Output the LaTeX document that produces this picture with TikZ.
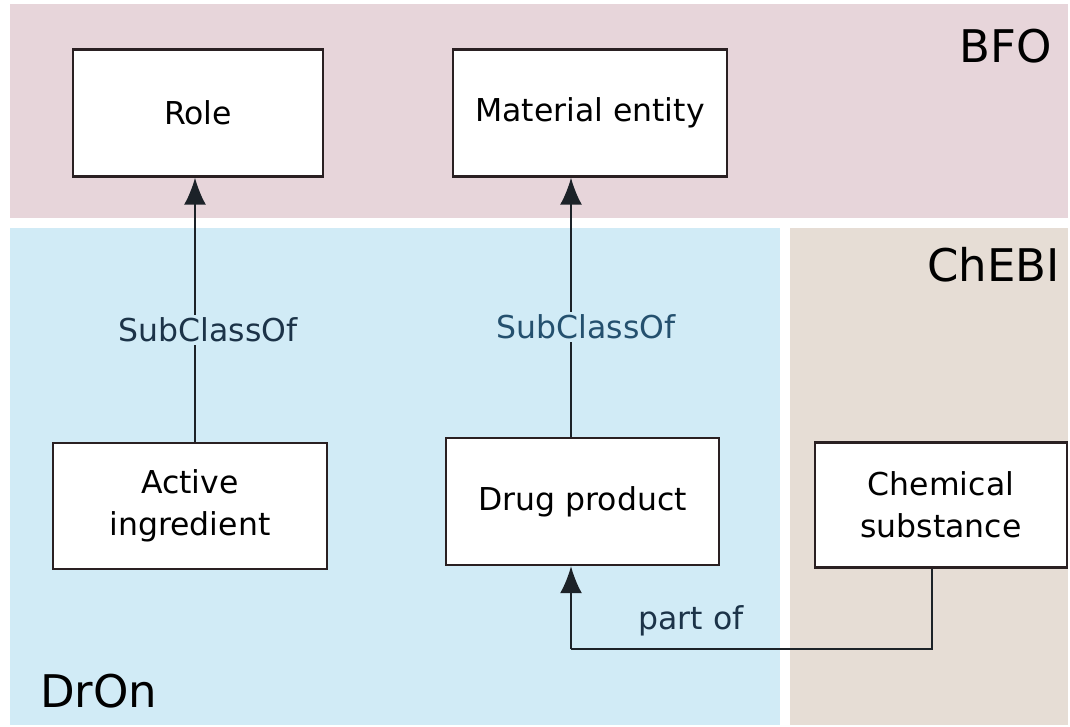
\documentclass[tikz,border=0pt]{standalone}
\usepackage{fontspec}
\setmainfont{DejaVu Sans}
\usetikzlibrary{arrows.meta}
\definecolor{bfopink}{HTML}{E7D5DA}
\definecolor{dronblue}{HTML}{D1EBF6}
\definecolor{chebibeige}{HTML}{E6DDD5}
\definecolor{boxline}{HTML}{2A2022}
\definecolor{arrline}{HTML}{1C2228}
\definecolor{lblA}{HTML}{1C3348}
\definecolor{lblB}{HTML}{24506E}
\tikzset{
  classbox/.style={draw=boxline, line width=2.4pt, fill=white, align=center,
    font=\fontsize{31.5}{42}\selectfont, inner sep=0pt},
  arr/.style={draw=arrline, line width=2pt, -{Latex[length=27pt,width=22pt]}},
  conn/.style={draw=arrline, line width=2pt},
  reltext/.style={font=\fontsize{31.5}{36}\selectfont, inner sep=3pt},
  paneltitle/.style={font=\fontsize{45}{50}\selectfont, inner sep=0pt, text=black}
}
\begin{document}
\begin{tikzpicture}[x=1pt,y=-1pt]
\useasboundingbox (0,0) rectangle (1070,727);
\fill[white] (0,0) rectangle (1070,727);
% panels
\fill[bfopink] (10,4) rectangle (1068,218);
\fill[dronblue] (10,228) rectangle (780,725);
\fill[chebibeige] (790,228) rectangle (1068,725);
% panel titles
\node[paneltitle, anchor=base east] (tbfo) at (1052,63) {BFO};
\node[paneltitle, anchor=base east] (tchebi) at (1060,281) {ChEBI};
\node[paneltitle, anchor=base west] (tdron) at (40,707) {DrOn};
% boxes
\node[classbox, minimum width=250pt, minimum height=127pt] (role) at (198,113) {Role};
\node[classbox, minimum width=274pt, minimum height=127pt] (mat) at (590,113) {Material entity};
\node[classbox, minimum width=274pt, minimum height=126pt] (act) at (190,506) {Active\\ingredient};
\node[classbox, minimum width=273pt, minimum height=127pt] (drug) at (582.5,501.5) {Drug product};
\node[classbox, minimum width=252pt, minimum height=125pt] (chem) at (941,505) {Chemical\\substance};
% connectors
\draw[arr] ([xshift=5pt]act.north) -- ([xshift=5pt]act.north |- role.south);
\draw[arr] ([xshift=-11.5pt]drug.north) -- ([xshift=-11.5pt]drug.north |- mat.south);
\coordinate (po) at (571,649);
\draw[conn] ([xshift=-9pt]chem.south) |- (po);
\draw[arr] (po) -- (po |- drug.south);
% relation labels
\node[reltext, fill=dronblue, text=lblA] (l1) at (208,330) {SubClassOf};
\node[reltext, fill=dronblue, text=lblB] (l2) at (586,327) {SubClassOf};
\node[reltext, text=lblA] (l3) at (691,621) {part of};
\end{tikzpicture}
\end{document}
